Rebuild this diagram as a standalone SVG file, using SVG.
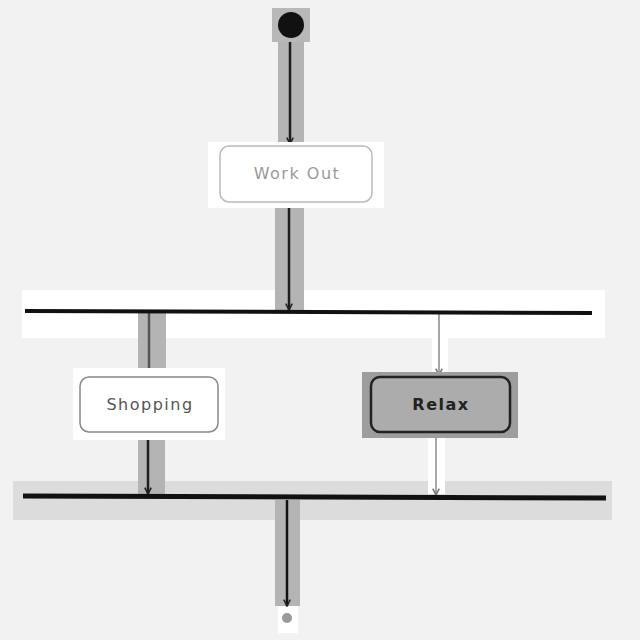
<svg xmlns="http://www.w3.org/2000/svg" width="640" height="640" viewBox="0 0 640 640">
  <defs>
    <marker id="arr" viewBox="0 0 10 10" refX="9" refY="5" markerWidth="8" markerHeight="8" orient="auto" markerUnits="userSpaceOnUse">
      <path d="M1,1 L9,5 L1,9" fill="none" stroke="#222" stroke-width="2"/>
    </marker>
    <marker id="arrL" viewBox="0 0 10 10" refX="9" refY="5" markerWidth="8" markerHeight="8" orient="auto" markerUnits="userSpaceOnUse">
      <path d="M1,1 L9,5 L1,9" fill="none" stroke="#777" stroke-width="2"/>
    </marker>
  </defs>
  <style>
    .band { fill: #b4b4b4; }
    .wband { fill: #ffffff; }
    .edge { stroke: #1e1e1e; stroke-width: 2.5; fill: none; }
    .edgeL { stroke: #8a8a8a; stroke-width: 1.5; fill: none; }
    .bar { stroke: #111; stroke-width: 4; }
    .lbl { font-family: "DejaVu Sans", "Liberation Sans", sans-serif; font-size: 16px; letter-spacing: 1.5px; text-anchor: middle; dominant-baseline: central; }
  </style>
  <rect width="640" height="640" fill="#f2f2f2"/>

  <!-- highlight backgrounds -->
  <rect x="272" y="8" width="38" height="34" fill="#b8b8b8"/>
  <rect x="22" y="290" width="583" height="48" fill="#ffffff"/>
  <rect x="13" y="481" width="599" height="39" fill="#dcdcdc"/>
  <rect x="278" y="605" width="20" height="28" fill="#ffffff"/>

  <g id="connectors">
    <rect class="band" x="278" y="42" width="26" height="102"/>
    <line class="edge" x1="290" y1="42" x2="290" y2="144" marker-end="url(#arr)"/>
    <rect class="band" x="275" y="203" width="29" height="108" fill="#a8a8a8"/>
    <line class="edge" x1="289" y1="203" x2="289" y2="310" marker-end="url(#arr)"/>
    <rect class="band" x="138" y="313" width="28" height="62" fill="#c8c8c8"/>
    <line class="edge" x1="149" y1="313" x2="149" y2="375" marker-end="url(#arr)" style="stroke:#555"/>
    <rect class="wband" x="432" y="313" width="16" height="62"/>
    <line class="edgeL" x1="439" y1="313" x2="439" y2="375" marker-end="url(#arrL)"/>
    <rect class="band" x="138" y="432" width="27" height="62" fill="#b0b0b0"/>
    <line class="edge" x1="148" y1="432" x2="148" y2="494" marker-end="url(#arr)"/>
    <rect class="wband" x="428" y="436" width="17" height="58"/>
    <line class="edgeL" x1="436" y1="436" x2="436" y2="495" marker-end="url(#arrL)"/>
    <rect class="band" x="275" y="500" width="25" height="106" fill="#9a9a9a"/>
    <line class="edge" x1="287" y1="500" x2="287" y2="606" marker-end="url(#arr)" style="stroke:#111"/>
  </g>

  <g id="start">
    <circle cx="291" cy="25" r="13" fill="#111"/>
  </g>

  <g id="workout">
    <rect x="208" y="142" width="176" height="66" fill="#ffffff"/>
    <rect x="220" y="146" width="152" height="56" rx="9" fill="#ffffff" stroke="#bbbbbb" stroke-width="1.5"/>
    <text class="lbl" x="297" y="173" fill="#999">Work Out</text>
  </g>

  <g id="fork">
    <line class="bar" x1="25" y1="311" x2="592" y2="313"/>
  </g>

  <g id="shopping">
    <rect x="73" y="368" width="152" height="72" fill="#ffffff"/>
    <rect x="80" y="377" width="138" height="55" rx="9" fill="#ffffff" stroke="#888" stroke-width="1.5"/>
    <text class="lbl" x="150" y="404" fill="#555">Shopping</text>
  </g>

  <g id="relax">
    <rect x="362" y="372" width="156" height="66" fill="#9d9d9d"/>
    <rect x="371" y="377" width="139" height="55" rx="9" fill="#acacac" stroke="#222" stroke-width="2.5"/>
    <text class="lbl" x="441" y="404" fill="#222" font-weight="bold">Relax</text>
  </g>

  <g id="join">
    <line class="bar" x1="23" y1="496" x2="606" y2="498" style="stroke-width:5"/>
  </g>

  <g id="end">
    <circle cx="287" cy="618" r="5" fill="#9a9a9a"/>
  </g>
</svg>
